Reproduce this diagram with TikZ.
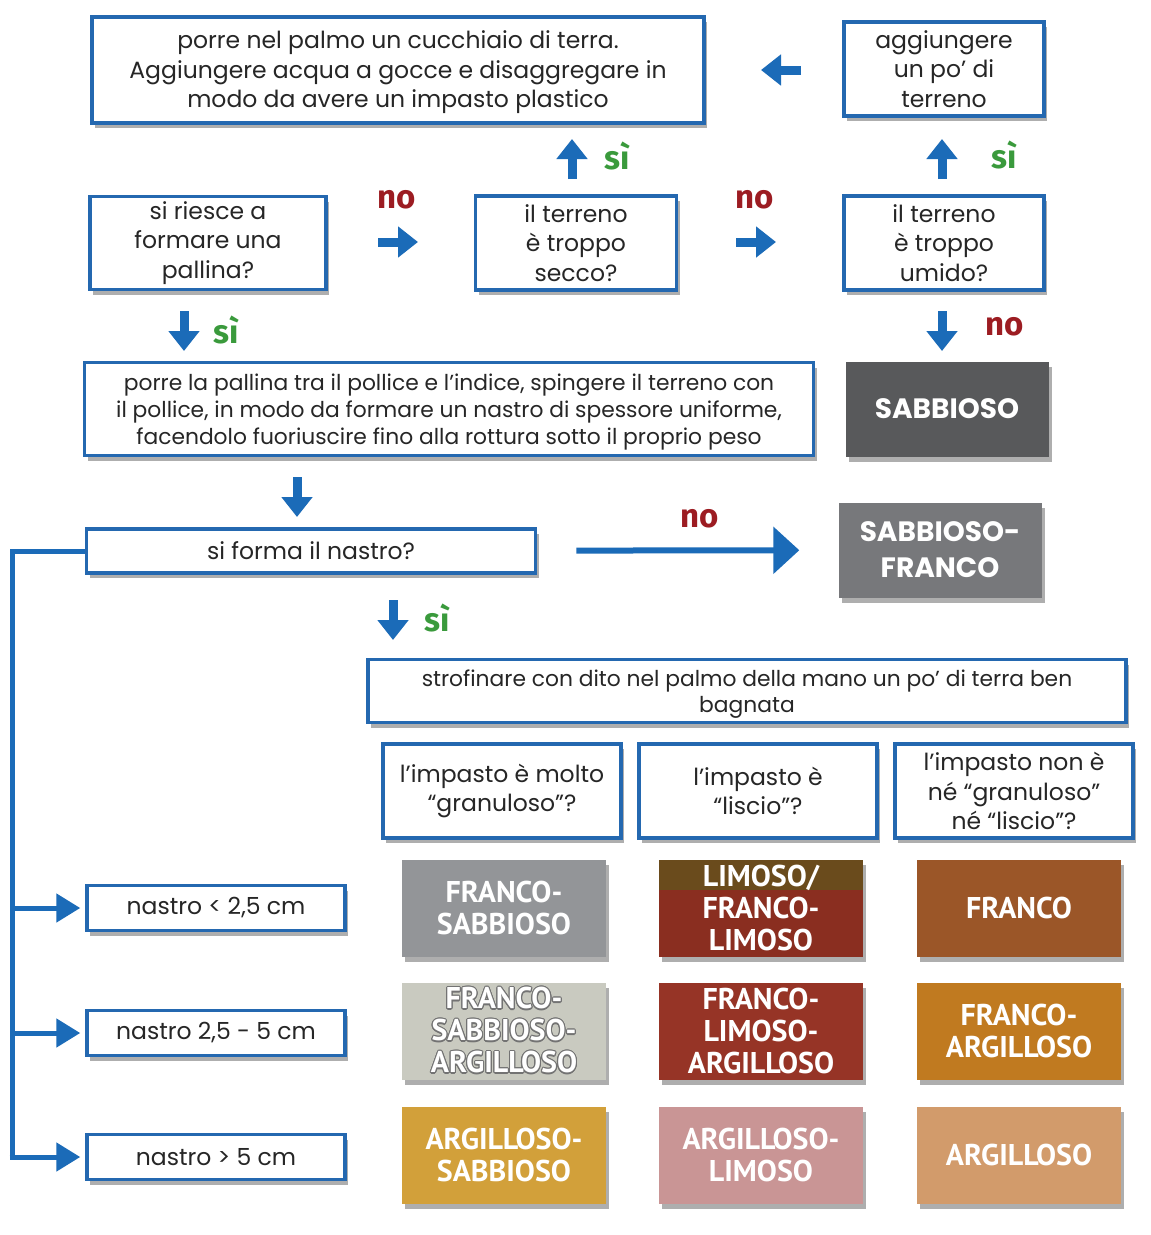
\documentclass[tikz,border=0pt]{standalone}
\usepackage{fontspec}
\setmainfont{Poppins}
\newfontfamily\capsfont{PT Sans}
\newfontfamily\yesnofont{Fira Sans}
\usepackage{contour}
\contourlength{1.1pt}
\usetikzlibrary{arrows.meta,shadows,calc}
\definecolor{bblue}{HTML}{2468B0}
\definecolor{ablue}{HTML}{1B6BB8}
\definecolor{txt}{HTML}{262626}
\definecolor{nored}{HTML}{9C1C22}
\definecolor{sigreen}{HTML}{3A9A3C}
\definecolor{csab}{HTML}{58595B}
\definecolor{csabfr}{HTML}{77787B}
\definecolor{cfrsab}{HTML}{939598}
\definecolor{climtop}{HTML}{6A4B1C}
\definecolor{clim}{HTML}{8A2E20}
\definecolor{cfranco}{HTML}{9B5628}
\definecolor{cfsa}{HTML}{C9CAC0}
\definecolor{cfla}{HTML}{963426}
\definecolor{cfa}{HTML}{C07A20}
\definecolor{cas}{HTML}{D2A03A}
\definecolor{cal}{HTML}{C99595}
\definecolor{carg}{HTML}{D29B6B}
\newcommand\farr[5]{%
  \coordinate (#1s) at ($(#2,#3)-(#4,#5)$);
  \coordinate (#1e) at ($(#2,#3)+(#4,#5)$);
  \draw[fat] (#1s) -- (#1e);}
\newcommand\tstrut{\rule{0pt}{22.5pt}}
\begin{document}
\begin{tikzpicture}[x=1pt,y=-1pt,
  shad/.style={drop shadow={shadow xshift=3pt,shadow yshift=-5pt,opacity=0.45,fill=black!70}},
  box/.style={draw=bblue,line width=3.5pt,fill=white,align=center,text=txt,inner sep=2pt,shad,
    font=\fontsize{23.5}{29.5}\selectfont},
  soil/.style={draw=none,align=center,text=white,inner sep=0pt,shad,
    minimum width=204pt,minimum height=97pt,font=\capsfont\bfseries\fontsize{30}{32}\selectfont},
  soilb/.style={soil,font=\bfseries\fontsize{28}{36}\selectfont},
  fat/.style={draw=ablue,line width=9pt,-{Triangle[length=20pt,width=30pt]}},
  conn/.style={draw=ablue,line width=5pt},
  yes/.style={text=sigreen,font=\yesnofont\bfseries\fontsize{33}{33}\selectfont},
  nolab/.style={text=nored,font=\yesnofont\bfseries\fontsize{33}{33}\selectfont},
]
\useasboundingbox[fill=white] (0,0) rectangle (1151,1235);

% top row
\node[box,minimum width=612pt,minimum height=106pt] (top) at (398,70)
  {\tstrut porre nel palmo un cucchiaio di terra.\\Aggiungere acqua a gocce e disaggregare in\\modo da avere un impasto plastico};
\node[box,minimum width=200pt,minimum height=94pt] (add) at (944,69)
  {aggiungere\\un po' di\\terreno};

% question row
\node[box,minimum width=236pt,minimum height=93pt] (q1) at (208,243)
  {si riesce a\\formare una\\pallina?};
\node[box,minimum width=201pt,minimum height=94pt] (q2) at (576,243)
  {il terreno\\è troppo\\secco?};
\node[box,minimum width=200pt,minimum height=94pt] (q3) at (944,243)
  {il terreno\\è troppo\\umido?};

% pallina
\node[box,minimum width=729pt,minimum height=93pt,font=\fontsize{21.8}{27}\selectfont] (pall) at (449,409)
  {\tstrut porre la pallina tra il pollice e l’indice, spingere il terreno con\\il pollice, in modo da formare un nastro di spessore uniforme,\\facendolo fuoriuscire fino alla rottura sotto il proprio peso};
\node[soilb,fill=csab,minimum width=203pt,minimum height=95pt] (sab) at (947,409) {SABBIOSO};

% nastro
\node[box,minimum width=449pt,minimum height=44pt] (nas) at (311,551) {si forma il nastro?};
\node[soilb,fill=csabfr,minimum width=203pt,minimum height=95pt] (sf) at (940,550) {SABBIOSO-\\FRANCO};

% strofinare
\node[box,minimum width=758pt,minimum height=63pt,font=\fontsize{21.8}{26}\selectfont] (str) at (747,691)
  {\tstrut strofinare con dito nel palmo della mano un po’ di terra ben\\bagnata};
\node[box,minimum width=238pt,minimum height=94pt] (g1) at (502,791) {l’impasto è molto\\“granuloso”?};
\node[box,minimum width=238pt,minimum height=94pt] (g2) at (758,791) {l’impasto è\\“liscio”?};
\node[box,minimum width=238pt,minimum height=94pt] (g3) at (1014,791) {l’impasto non è\\né “granuloso”\\né “liscio”?};

% nastro lengths
\node[box,minimum width=258pt,minimum height=45pt] (n1) at (216,908) {nastro < 2,5 cm};
\node[box,minimum width=258pt,minimum height=45pt] (n2) at (216,1033) {nastro 2,5 - 5 cm};
\node[box,minimum width=258pt,minimum height=45pt] (n3) at (216,1157) {nastro > 5 cm};

% soil grid
\node[soil,fill=cfrsab] (s11) at (504,908) {FRANCO-\\SABBIOSO};
\node[soil,fill=clim,path picture={\fill[climtop] (path picture bounding box.north west) rectangle ([yshift=-30pt]path picture bounding box.north east);}] (s12) at (761,908) {LIMOSO/\\FRANCO-\\LIMOSO};
\node[soil,fill=cfranco] (s13) at (1019,908) {FRANCO};
\node[soil,fill=cfsa] (s21) at (504,1031) {\contour{black!55}{FRANCO-}\\\contour{black!55}{SABBIOSO-}\\\contour{black!55}{ARGILLOSO}};
\node[soil,fill=cfla] (s22) at (761,1031) {FRANCO-\\LIMOSO-\\ARGILLOSO};
\node[soil,fill=cfa] (s23) at (1019,1031) {FRANCO-\\ARGILLOSO};
\node[soil,fill=cas] (s31) at (504,1155) {ARGILLOSO-\\SABBIOSO};
\node[soil,fill=cal] (s32) at (761,1155) {ARGILLOSO-\\LIMOSO};
\node[soil,fill=carg] (s33) at (1019,1155) {ARGILLOSO};

% fat arrows
\farr{aL}{781}{70}{-20}{0}
\farr{aU1}{572}{159}{0}{-20}
\farr{aU2}{942}{159}{0}{-20}
\farr{aR1}{398}{242}{20}{0}
\farr{aR2}{756}{242}{20}{0}
\farr{aD1}{184}{331}{0}{20}
\farr{aD2}{942}{331}{0}{20}
\farr{aD3}{297}{497}{0}{20}
\farr{aD4}{393}{620}{0}{20}

% labels
\node[yes] (y1) at (617,156) {sì};
\node[yes] (y2) at (1004,155) {sì};
\node[nolab] (no1) at (397,200) {no};
\node[nolab] (no2) at (755,200) {no};
\node[yes] (y3) at (226,330) {sì};
\node[nolab] (no3) at (1005,327) {no};
\node[nolab] (no4) at (700,519) {no};
\node[yes] (y4) at (437,618) {sì};

% long arrow
\draw[draw=ablue,line width=6pt,-{Triangle[length=26pt,width=46pt]},shorten <=39pt,shorten >=39pt] (nas) -- (sf);

% bracket
\coordinate (bx) at (12,551);
\draw[conn] (nas.west) -- (bx) -- (bx |- n3.west);
\draw[conn,-{Triangle[length=24pt,width=28pt]}] (bx |- n1.west) -- ([xshift=-5pt]n1.west);
\draw[conn,-{Triangle[length=24pt,width=28pt]}] (bx |- n2.west) -- ([xshift=-5pt]n2.west);
\draw[conn,-{Triangle[length=24pt,width=28pt]}] ([xshift=-2.5pt]bx |- n3.west) -- ([xshift=-5pt]n3.west);
\end{tikzpicture}
\end{document}
